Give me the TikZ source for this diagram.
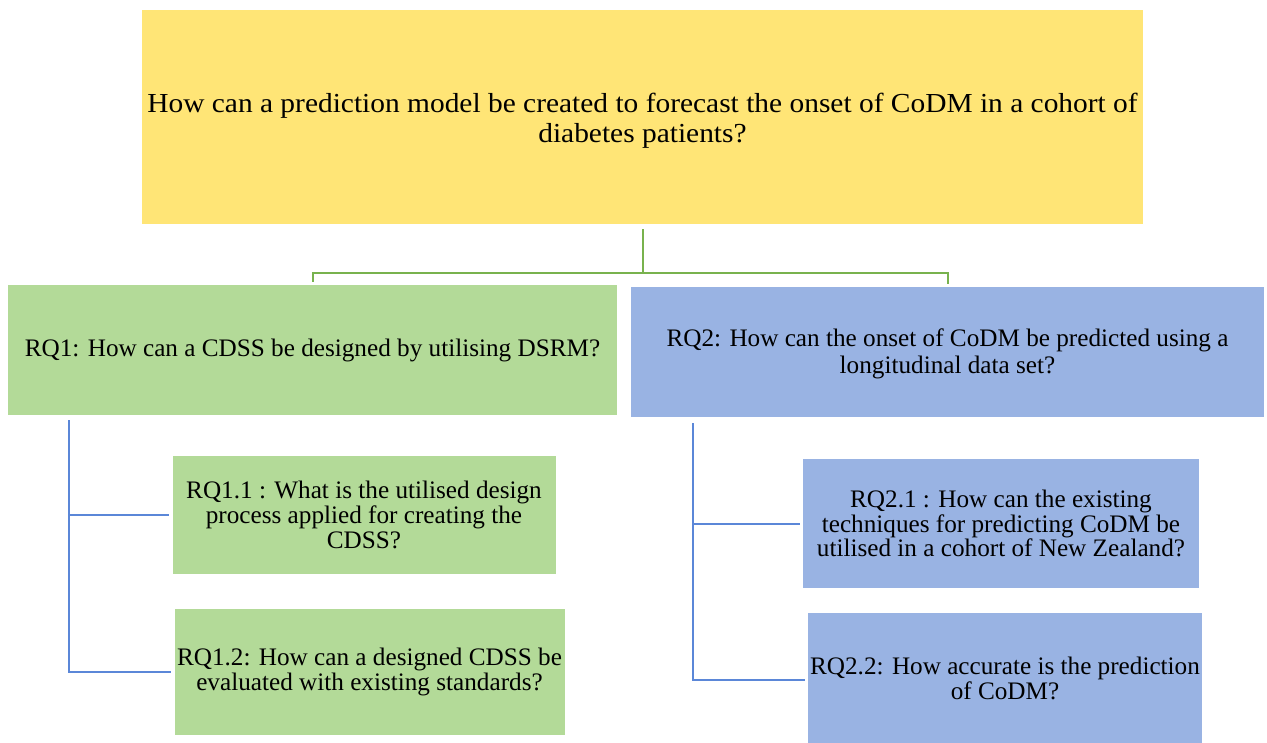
\documentclass[tikz,border=0pt]{standalone}
\usepackage{fontspec}
\newfontfamily\qfont{Liberation Serif}
\newfontfamily\qwidefont{Liberation Serif}[FakeStretch=1.07]
\begin{document}
\begin{tikzpicture}[x=1pt,y=-1pt,
  box/.style={rectangle, inner sep=0pt, align=center, text=black,
    font=\qfont\fontsize{25.2}{24.8}\selectfont},
  mainq/.style={box, fill=qyellow, font=\qwidefont\fontsize{27.5}{30.5}\selectfont},
  greenq/.style={box, fill=qgreen},
  blueq/.style={box, fill=qblue},
  glink/.style={draw=lgreen, line width=2pt},
  blink/.style={draw=lblue, line width=2pt}]
\definecolor{qyellow}{HTML}{FFE576}
\definecolor{qgreen}{HTML}{B3DA98}
\definecolor{qblue}{HTML}{99B3E3}
\definecolor{lgreen}{HTML}{78B24E}
\definecolor{lblue}{HTML}{5B87D8}
\useasboundingbox (0,0) rectangle (1267,743);

% main research question (strut lowers the two lines a little)
\node[mainq, minimum width=1001pt, minimum height=214pt] (top) at (642.5,117)
  {\rule{0pt}{27pt}How can a prediction model be created to forecast the onset of CoDM in a cohort of\\diabetes patients?};

% research questions
\node[greenq, minimum width=609pt, minimum height=130pt] (rq1) at (312.5,350)
  {RQ1: How can a CDSS be designed by utilising DSRM?};
\node[blueq, minimum width=633pt, minimum height=130pt,
  font=\qfont\fontsize{25.2}{26.5}\selectfont] (rq2) at (947.5,352)
  {\rule{0pt}{21pt}RQ2: How can the onset of CoDM be predicted using a\\longitudinal data set?};

% sub-questions
\node[greenq, minimum width=383pt, minimum height=118pt] (rq11) at (364,515)
  {RQ1.1 : What is the utilised design\\process applied for creating the\\CDSS?};
\node[greenq, minimum width=390pt, minimum height=126pt] (rq12) at (369.5,672)
  {RQ1.2: How can a designed CDSS be\\evaluated with existing standards?};
\node[blueq, minimum width=396pt, minimum height=129pt] (rq21) at (1001,523.5)
  {RQ2.1 : How can the existing\\techniques for predicting CoDM be\\utilised in a cohort of New Zealand?};
\node[blueq, minimum width=394pt, minimum height=140pt, text depth=10pt] (rq22) at (1005,683)
  {RQ2.2: How accurate is the prediction\\of CoDM?};

% tree connectors from the main question
\coordinate (gsplit) at (643,273);
\draw[glink] ([yshift=-5pt]top.south -| gsplit) -- (gsplit);
\draw[glink] (gsplit) -| ([yshift=3pt]rq1.north);
\draw[glink] (gsplit) -| ([yshift=3pt]rq2.north);

% sub-question connectors
\coordinate (lroot) at (69,420);
\coordinate (rroot) at (693,423);
\draw[blink] (lroot) |- ([xshift=-3pt]rq12.west);
\draw[blink] (lroot |- rq11.west) -- ([xshift=-3pt]rq11.west);
\draw[blink] (rroot) |- ([xshift=-3pt]rq22.west |- 0,680);
\draw[blink] (rroot |- rq21.west) -- ([xshift=-3pt]rq21.west);
\end{tikzpicture}
\end{document}
